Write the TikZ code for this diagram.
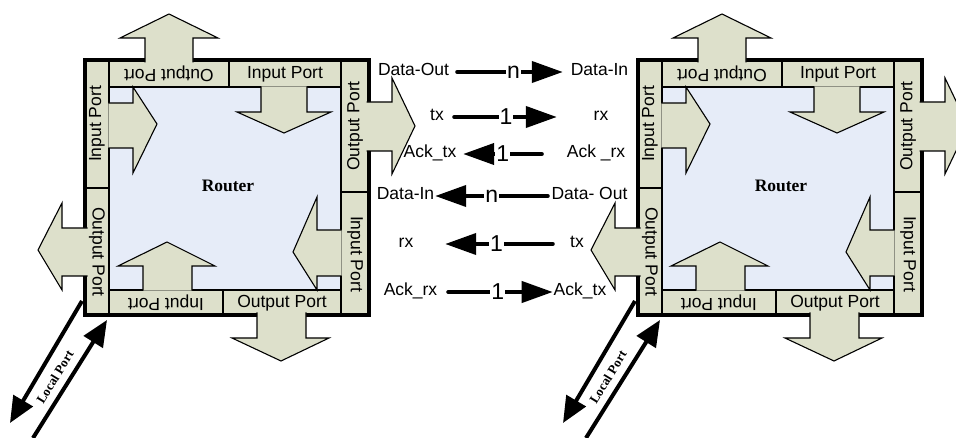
\documentclass[tikz,border=0pt]{standalone}
\usepackage{fontspec}
\setmainfont{Liberation Sans}
\newfontfamily\routerfont{Liberation Serif}
\usetikzlibrary{arrows.meta}
\definecolor{portgreen}{RGB}{221,224,203}
\definecolor{corefill}{RGB}{230,236,248}
\tikzset{
  core/.style={fill=corefill, draw=black, line width=1.1pt},
  portstrip/.style={fill=portgreen, draw=black, line width=1.1pt},
  routerframe/.style={draw=black, line width=4pt},
  portarrow/.style={fill=portgreen, draw=black, line width=1.1pt, line join=miter},
  portlabel/.style={font=\fontsize{17.5}{19}\selectfont, inner sep=0pt},
  routerlabel/.style={font=\routerfont\bfseries\fontsize{17.5}{19}\selectfont},
  signame/.style={font=\fontsize{17.5}{19}\selectfont, inner sep=0pt,
    text height=1.5ex, text depth=.25ex},
  sig/.style={line width=4pt, line cap=round, -{Triangle[length=31pt, width=21pt]}},
  siglabel/.style={font=\fontsize{23}{25}\selectfont, fill=white, inner sep=1pt},
  localport/.style={line width=4pt, -{Triangle[length=26pt, width=22pt]}},
  locallabel/.style={font=\routerfont\bfseries\fontsize{13}{15}\selectfont, rotate=58.5}
}

\begin{document}
\begin{tikzpicture}[x=1pt, y=-1pt]
\useasboundingbox (0,0) rectangle (956,438);

%% Routers
\foreach \side/\ox in {L/85, R/638} {
\begin{scope}[shift={(\ox,60)}]
  %% core and port strips
  \draw[core] (24,27) rectangle (256,230);
  \draw[portstrip] (0,0) rectangle (24,128);
  \draw[portstrip] (0,128) rectangle (24,255);
  \draw[portstrip] (256,0) rectangle (284,132);
  \draw[portstrip] (256,132) rectangle (284,255);
  \draw[portstrip] (24,0) rectangle (144,27);
  \draw[portstrip] (144,0) rectangle (256,27);
  \draw[portstrip] (24,230) rectangle (138,255);
  \draw[portstrip] (138,230) rectangle (256,255);
  \draw[routerframe] (0,0) rectangle (284,255);

  %% ── block arrows, out of and into the router
  \filldraw[portarrow] (60,2.5) -- (60,-22) -- (35,-22) -- (84,-46) -- (133,-22) -- (108,-22) -- (108,2.5);
  \filldraw[portarrow] (176,26.4) -- (176,52) -- (152,52) -- (199,73) -- (246,52) -- (222,52) -- (222,26.4);
  \filldraw[portarrow] (23.4,43) -- (48,43) -- (48,27) -- (72,64) -- (48,113) -- (48,88) -- (23.4,88);
  \filldraw[portarrow] (281.5,42) -- (307,42) -- (307,18) -- (330,66) -- (307,114) -- (307,91) -- (281.5,91);
  \filldraw[portarrow] (2.5,168) -- (-23,168) -- (-23,143) -- (-47,190) -- (-23,230) -- (-23,216) -- (2.5,216);
  \filldraw[portarrow] (256.6,170) -- (232,170) -- (232,137) -- (208,192) -- (232,230) -- (232,216) -- (256.6,216);
  \filldraw[portarrow] (58,230.6) -- (58,206) -- (33,206) -- (82,182) -- (130,206) -- (107,206) -- (107,230.6);
  \filldraw[portarrow] (172,252.5) -- (172,278) -- (147,278) -- (196,301) -- (244,278) -- (221,278) -- (221,252.5);

  %% ── port names
  \node[portlabel, rotate=90]  (\side-inW)  at (12,64)   {Input Port};
  \node[portlabel, rotate=-90] (\side-outW) at (12,192)  {Output Port};
  \node[portlabel, rotate=90]  (\side-outE) at (270,66)  {Output Port};
  \node[portlabel, rotate=-90] (\side-inE)  at (270,194) {Input Port};
  \node[portlabel, rotate=180] (\side-outN) at (84,14)   {Output Port};
  \node[portlabel]             (\side-inN)  at (200,14)  {Input Port};
  \node[portlabel, rotate=180] (\side-inS)  at (81,243)  {Input Port};
  \node[portlabel]             (\side-outS) at (197,243) {Output Port};
  \node[routerlabel] (\side-router) at (143,126) {Router};

  %% ── local port
  \coordinate (\side-lpout) at (-3,241);
  \coordinate (\side-lpsink) at (-75,363);
  \coordinate (\side-lpsrc) at (-52,378);
  \coordinate (\side-lpin) at (22,260);
  \draw[localport] (\side-lpout) -- (\side-lpsink);
  \draw[localport] (\side-lpsrc) -- (\side-lpin);
  \node[locallabel] (\side-local) at (-30,317) {Local Port};
\end{scope}
}

%% ── L → R
\node[signame] (dataoutL) at (413.5,72) {Data-Out};
\node[signame] (datainR)  at (599.5,72) {Data-In};
\draw[sig, shorten <=8pt, shorten >=7.8pt] (dataoutL.east) -- (datainR.west)
  node[siglabel, pos=0.53] {n};

\node[signame] (txL) at (437,117) {tx};
\node[signame] (rxR) at (601,117) {rx};
\draw[sig, shorten <=10.2pt, shorten >=36.7pt] (txL.east) -- (rxR.west)
  node[siglabel, pos=0.415] {1};

\node[signame] (acktxL) at (430,154) {Ack\_tx};
\node[signame] (ackrxR) at (596,154) {Ack \_rx};
\draw[sig, shorten <=24.8pt, shorten >=6.7pt] (ackrxR.west) -- (acktxL.east)
  node[siglabel, pos=0.58] {1};

%% ── R → L
\node[signame] (datainL)  at (405.5,196) {Data-In};
\node[signame] (dataoutR) at (589.5,196) {Data- Out};
\draw[sig, shorten <=3.6pt, shorten >=0.8pt] (dataoutR.west) -- (datainL.east)
  node[siglabel, pos=0.51] {n};

\node[signame] (rxL) at (406,244) {rx};
\node[signame] (txR) at (577,244) {tx};
\draw[sig, shorten <=17.2pt, shorten >=31.7pt] (txR.west) -- (rxL.east)
  node[siglabel, pos=0.47] {1};

\node[signame] (ackrxL) at (410.5,292) {Ack\_rx};
\node[signame] (acktxR) at (580,292) {Ack\_tx};
\draw[sig, shorten <=10.8pt, shorten >=0.8pt] (ackrxL.east) -- (acktxR.west)
  node[siglabel, pos=0.52] {1};

\end{tikzpicture}
\end{document}
